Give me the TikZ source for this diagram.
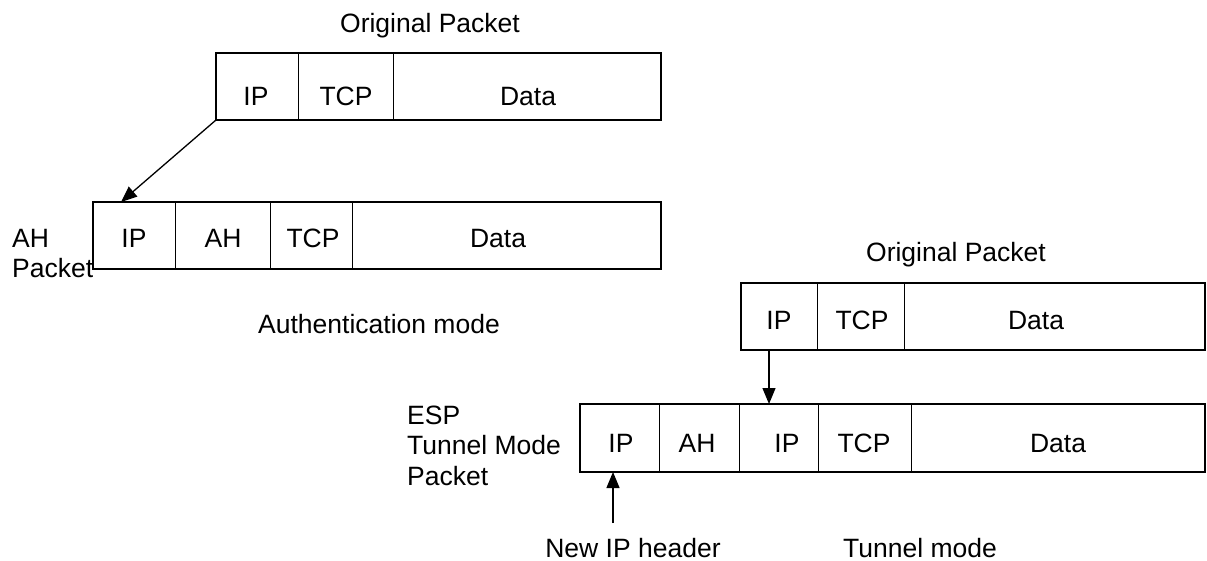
\documentclass[tikz,border=0pt]{standalone}
\usepackage{fontspec}
\setmainfont{Liberation Sans}
\usetikzlibrary{arrows.meta}
\begin{document}
\begin{tikzpicture}[x=1pt,y=-1pt,
  cell/.style={draw, line width=1pt, anchor=north west, inner sep=0pt, outer sep=0pt, minimum width=#1},
  rowa/.style={minimum height=67pt},
  rowb/.style={minimum height=68pt},
  frame/.style={draw, line width=2pt},
  lbl/.style={anchor=base, inner sep=0pt, font=\fontsize{26.5}{31}\selectfont},
  side/.style={anchor=base west, inner sep=0pt, align=left, font=\fontsize{26.5}{30.5}\selectfont},
  arr/.style={line width=1.3pt, -{Triangle[length=16pt,width=13pt]}}]
\useasboundingbox (0,0) rectangle (1207,561);
% top original packet
\node[cell=82pt, rowa] (o1) at (216,53) {};
\node[cell=95pt, rowa] (o2) at (298,53) {};
\node[cell=268pt, rowa] (o3) at (393,53) {};
\draw[frame] (o1.north west) rectangle (o3.south east);
\node[lbl] (otitle) at (430,33) {Original Packet};
\node[lbl] (o1t) at (256,106) {IP};
\node[lbl] (o2t) at (346,106) {TCP};
\node[lbl] (o3t) at (528,106) {Data};
% AH packet
\node[cell=82pt, rowa] (a1) at (93,202) {};
\node[cell=95pt, rowa] (a2) at (175,202) {};
\node[cell=82pt, rowa] (a3) at (270,202) {};
\node[cell=309pt, rowa] (a4) at (352,202) {};
\draw[frame] (a1.north west) rectangle (a4.south east);
\node[lbl] (a1t) at (134,248) {IP};
\node[lbl] (a2t) at (223,248) {AH};
\node[lbl] (a3t) at (313,248) {TCP};
\node[lbl] (a4t) at (498,248) {Data};
\node[side] (alabel) at (12,278) {AH\\Packet};
\node[lbl] (amode) at (379,333) {Authentication mode};
\draw[arr] (o1.south west) -- ([xshift=28pt]a1.north west);
% tunnel original packet
\node[cell=76pt, rowa] (t1) at (741,283) {};
\node[cell=87.5pt, rowa] (t2) at (817,283) {};
\node[cell=300.5pt, rowa] (t3) at (904.5,283) {};
\draw[frame] (t1.north west) rectangle (t3.south east);
\node[lbl] (ttitle) at (956,262) {Original Packet};
\node[lbl] (t1t) at (779,329) {IP};
\node[lbl] (t2t) at (862,329) {TCP};
\node[lbl] (t3t) at (1036,329) {Data};
% ESP tunnel packet
\node[cell=79pt, rowb] (e1) at (580,404) {};
\node[cell=80pt, rowb] (e2) at (659,404) {};
\node[cell=79pt, rowb] (e3) at (739,404) {};
\node[cell=93pt, rowb] (e4) at (818,404) {};
\node[cell=294pt, rowb] (e5) at (911,404) {};
\draw[frame] (e1.north west) rectangle (e5.south east);
\node[lbl] (e1t) at (621,452) {IP};
\node[lbl] (e2t) at (697,452) {AH};
\node[lbl] (e3t) at (787,452) {IP};
\node[lbl] (e4t) at (864,452) {TCP};
\node[lbl] (e5t) at (1058,452) {Data};
\node[side] (elabel) at (407,485) {ESP\\Tunnel Mode\\Packet};
\draw[arr] ([xshift=28pt]t1.south west) -- ([xshift=30pt]e3.north west);
\coordinate (newip) at (613,523);
\draw[arr] (newip) -- ([xshift=33pt]e1.south west);
\node[lbl] (newipt) at (633,557) {New IP header};
\node[lbl] (tmode) at (920,557) {Tunnel mode};
\end{tikzpicture}
\end{document}
